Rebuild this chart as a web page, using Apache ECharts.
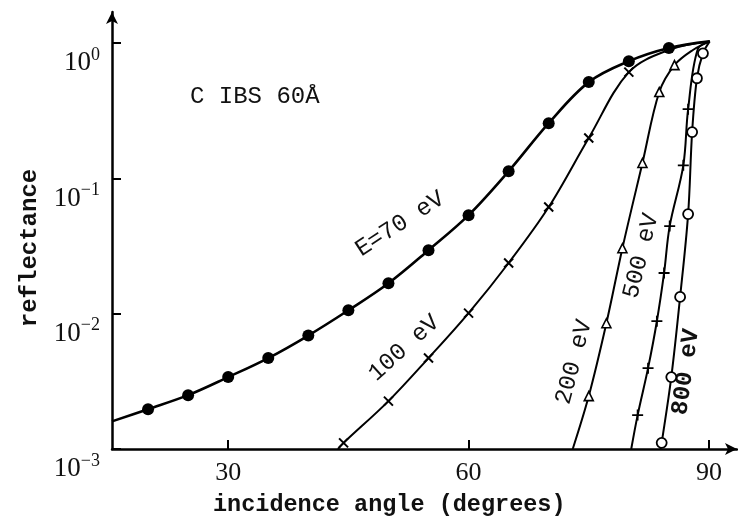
<!DOCTYPE html>
<html>
<head>
<meta charset="utf-8">
<script src="https://cdn.jsdelivr.net/npm/echarts@6/dist/echarts.min.js"></script>
<style>
html, body { margin: 0; padding: 0; background: #fff; }
#chart { width: 738px; height: 518px; }
</style>
</head>
<body>
<div id="chart"></div>
<script>
// marked points of each curve (angle in degrees, reflectance)
var angle70 = [20, 25, 30, 35, 40, 45, 50, 55, 60, 65, 70, 75, 80, 85];
var refl70 = [0.00197, 0.0025, 0.0034, 0.0047, 0.0069, 0.0106, 0.0168, 0.0295, 0.0535, 0.113, 0.256, 0.515, 0.735, 0.92];
var head70 = [[15.5, 0.0016]];
var tail70 = [[90.1, 1.03]];

var angle100 = [44.4, 50, 55, 60, 65, 70, 75, 80];
var refl100 = [0.00111, 0.00226, 0.0047, 0.0101, 0.0237, 0.0614, 0.199, 0.61];
var head100 = [[43.7, 0.001]];
var tail100 = [[85, 0.89], [90.1, 1.03]];

var angle200 = [75.0, 77.2, 79.2, 81.7, 83.8, 85.7];
var refl200 = [0.00246, 0.0085, 0.0305, 0.13, 0.435, 0.688];
var head200 = [[73.0, 0.001]];
var tail200 = [[88.0, 0.89], [90.1, 1.03]];

var angle500 = [81.1, 82.4, 83.5, 84.4, 85.1, 86.8, 87.4];
var refl500 = [0.00178, 0.00396, 0.0088, 0.02, 0.0444, 0.125, 0.325];
var head500 = [[80.3, 0.001]];
var tail500 = [[88.6, 0.9], [90.1, 1.03]];

var angle800 = [84.1, 85.3, 86.4, 87.4, 87.9, 88.5, 89.25];
var refl800 = [0.00111, 0.0034, 0.0133, 0.0545, 0.22, 0.55, 0.84];
var head800 = [[83.95, 0.001]];
var tail800 = [[90.1, 1.03]];

var xTicks = [30, 60, 90];
var yTicks = [0.001, 0.01, 0.1, 1];

var mono = '"Liberation Mono", "DejaVu Sans Mono", monospace';
var serif = '"Liberation Serif", "DejaVu Serif", serif';

function toLog(p) {
  return [p[0], Math.log10(p[1])];
}

function markers(angles, refl) {
  return angles.map(function (a, i) {
    return [a, Math.log10(refl[i])];
  });
}

function curve(head, angles, refl, tail) {
  return head.map(toLog).concat(markers(angles, refl)).concat(tail.map(toLog));
}

function lineSeries(data, width) {
  return {
    type: 'line',
    data: data,
    smooth: 0.35,
    symbol: 'none',
    lineStyle: { color: '#000', width: width },
    z: 2
  };
}

function markSeries(data, symbol, size, fill, border) {
  return {
    type: 'scatter',
    data: data,
    symbol: symbol,
    symbolSize: size,
    itemStyle: { color: fill, borderColor: '#000', borderWidth: border, opacity: 1 },
    z: 3
  };
}

function curveLabel(text, x, y, deg, weight) {
  return {
    type: 'text',
    x: x,
    y: y,
    rotation: deg * Math.PI / 180,
    style: {
      text: text,
      fontFamily: mono,
      fontSize: 24,
      fontWeight: weight || 'normal',
      fill: '#111',
      align: 'center',
      verticalAlign: 'middle',
      textAlign: 'center',
      textVerticalAlign: 'middle'
    }
  };
}

var chart = echarts.init(document.getElementById('chart'), null, { renderer: 'canvas' });

var cross = 'path://M0,0L10,10M10,0L0,10';
var plus = 'path://M5,0L5,10M0,5L10,5';
var yTickValues = yTicks.map(function (v) { return Math.round(Math.log10(v)); });

var option = {
  backgroundColor: '#fff',
  animation: false,
  grid: { left: 112, right: 1, top: 12, bottom: 69, containLabel: false },
  xAxis: {
    type: 'value',
    min: 15.5,
    max: 93.5,
    axisLine: { onZero: false, lineStyle: { color: '#000', width: 2.5 }, symbol: ['none', 'arrow'], symbolSize: [9, 12] },
    axisTick: { inside: true, length: 9, lineStyle: { color: '#000', width: 2 }, customValues: xTicks },
    axisLabel: {
      customValues: xTicks,
      margin: 11,
      color: '#111',
      fontFamily: serif,
      fontSize: 26
    },
    splitLine: { show: false }
  },
  yAxis: {
    type: 'value',
    min: -3,
    max: 0.23,
    axisLine: { onZero: false, lineStyle: { color: '#000', width: 2.5 }, symbol: ['none', 'arrow'], symbolSize: [9, 12] },
    axisTick: {
      inside: true, length: 9, lineStyle: { color: '#000', width: 2 },
      customValues: yTickValues
    },
    axisLabel: {
      customValues: yTickValues,
      margin: 12,
      verticalAlign: 'middle',
      padding: [40, 0, 0, 0],
      formatter: function (v) {
        var n = Math.round(v);
        return '{b|10}{s|' + (n < 0 ? '\u2212' + (-n) : n) + '}';
      },
      rich: {
        b: { fontFamily: serif, fontSize: 27, lineHeight: 27, color: '#111' },
        s: { fontFamily: serif, fontSize: 18, lineHeight: 18, padding: [0, 0, 16, 0], color: '#111' }
      }
    },
    splitLine: { show: false }
  },
  graphic: [
    {
      type: 'text', x: 190, y: 97,
      style: { text: 'C IBS 60\u00c5', fontFamily: mono, fontSize: 24, fill: '#111', verticalAlign: 'middle', textVerticalAlign: 'middle' }
    },
    {
      type: 'text', x: 213, y: 505,
      style: { text: 'incidence angle (degrees)', fontFamily: mono, fontSize: 23.5, fontWeight: 'bold', fill: '#111', verticalAlign: 'middle', textVerticalAlign: 'middle' }
    },
    {
      type: 'text', x: 30, y: 248, rotation: Math.PI / 2,
      style: { text: 'reflectance', fontFamily: mono, fontSize: 24, fontWeight: 'bold', fill: '#111', align: 'center', verticalAlign: 'middle', textAlign: 'center', textVerticalAlign: 'middle' }
    },
    curveLabel('E=70 eV', 400, 224, 33),
    curveLabel('100 eV', 404, 348, 42),
    curveLabel('200 eV', 574, 362, 75),
    curveLabel('500 eV', 641, 256, 76),
    curveLabel('800 eV', 686, 372, 82, 'bold')
  ],
  series: [
    lineSeries(curve(head70, angle70, refl70, tail70), 2.6),
    lineSeries(curve(head100, angle100, refl100, tail100), 2),
    lineSeries(curve(head200, angle200, refl200, tail200), 2),
    lineSeries(curve(head500, angle500, refl500, tail500), 2),
    lineSeries(curve(head800, angle800, refl800, tail800), 2),
    markSeries(markers(angle70, refl70), 'circle', 12, '#000', 0),
    markSeries(markers(angle100, refl100), cross, 9, 'none', 2),
    markSeries(markers(angle200, refl200), 'triangle', 9, '#fff', 1.6),
    markSeries(markers(angle500, refl500), plus, 11, 'none', 1.8),
    markSeries(markers(angle800, refl800), 'circle', 10, '#fff', 1.8)
  ]
};

chart.setOption(option);
</script>
</body>
</html>
